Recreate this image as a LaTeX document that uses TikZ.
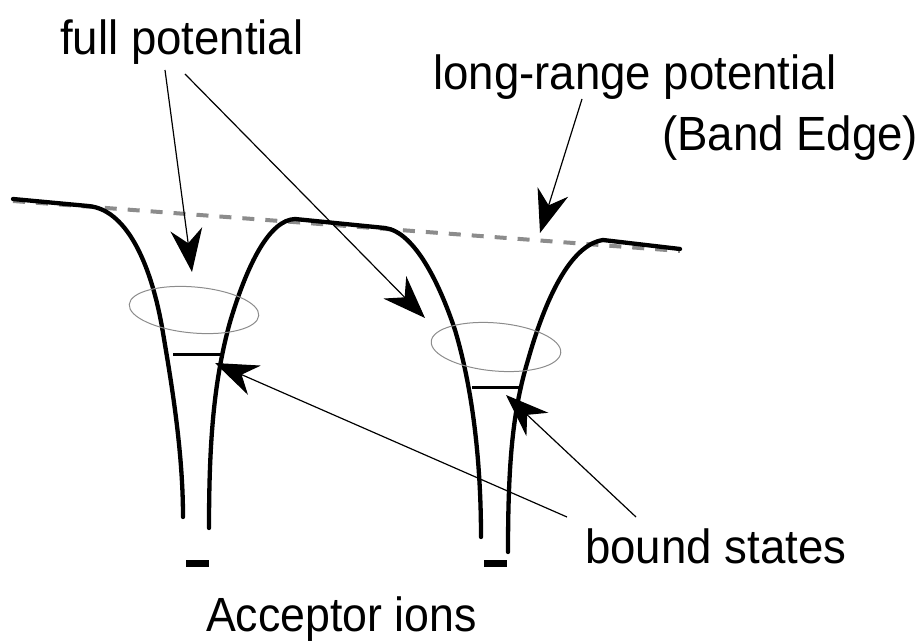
\documentclass[tikz,border=0pt]{standalone}
\usepackage{fontspec}
\setmainfont{Liberation Sans}
\usetikzlibrary{arrows.meta}
\begin{document}
\begin{tikzpicture}[x=1pt,y=-1pt,
  pot/.style={line width=4.3pt, line join=round, line cap=round},
  band/.style={line width=4pt, color=black!45, dash pattern=on 12pt off 11pt},
  lvl/.style={line width=3pt},
  ion/.style={line width=7pt},
  halo/.style={line width=1pt, color=black!45},
  ptr/.style={line width=1.2pt, -{Stealth[length=43pt,width=32pt,inset=14pt]}},
  lbl/.style={anchor=base west, inner sep=0pt, xscale=0.95, font=\fontsize{48}{52}\selectfont}]
\useasboundingbox (0,0) rectangle (923,644);
% labels
\node[lbl] (fp) at (60,55) {full potential};
\node[lbl] (lr) at (433,90) {long-range potential};
\node[lbl] (be) at (662,151) {(Band Edge)};
\node[lbl] (bs) at (585,563) {bound states};
\node[lbl, xscale=0.98] (ai) at (206,631) {Acceptor ions};
% band edge (dashed)
\draw[band] (13,201) -- (680,251);
% full potential
\draw[pot] (13,199) -- (88,206) .. controls (125,209) and (150,260) .. (162,327)
  .. controls (171,380) and (183,450) .. (183,517);
\draw[pot] (209,528) .. controls (209,440) and (214,380) .. (230,322)
  .. controls (248,262) and (270,220) .. (295,219) -- (385,228)
  .. controls (415,232) and (440,285) .. (455,330)
  .. controls (470,380) and (481,450) .. (481,537);
\draw[pot] (508,552) .. controls (508,460) and (513,410) .. (528,360)
  .. controls (545,300) and (570,245) .. (603,240) -- (680,249);
% halos
\draw[halo, rotate around={-5:(194,310)}] (194,310) ellipse [x radius=65pt, y radius=23pt];
\draw[halo, rotate around={-5:(496,347)}] (496,347) ellipse [x radius=65pt, y radius=24pt];
% bound state levels
\draw[lvl] (173,354) -- (223,354);
\draw[lvl] (472,387) -- (522,387);
% acceptor ions
\draw[ion] (186,563) -- (209,563);
\draw[ion] (484,563) -- (507,563);
% pointer coordinates
\coordinate (fpA) at (165,70);
\coordinate (fpB) at (185,74);
\coordinate (fpTipA) at (192,272);
\coordinate (fpTipB) at (425,318);
\coordinate (lrS) at (582,99);
\coordinate (lrTip) at (540,233);
\coordinate (bsA) at (567,517);
\coordinate (bsB) at (636,517);
\coordinate (bsTipA) at (215,363);
\coordinate (bsTipB) at (506,395);
\draw[ptr] (fpA) -- (fpTipA);
\draw[ptr] (fpB) -- (fpTipB);
\draw[ptr] (lrS) -- (lrTip);
\draw[ptr] (bsA) -- (bsTipA);
\draw[ptr] (bsB) -- (bsTipB);
\end{tikzpicture}
\end{document}
